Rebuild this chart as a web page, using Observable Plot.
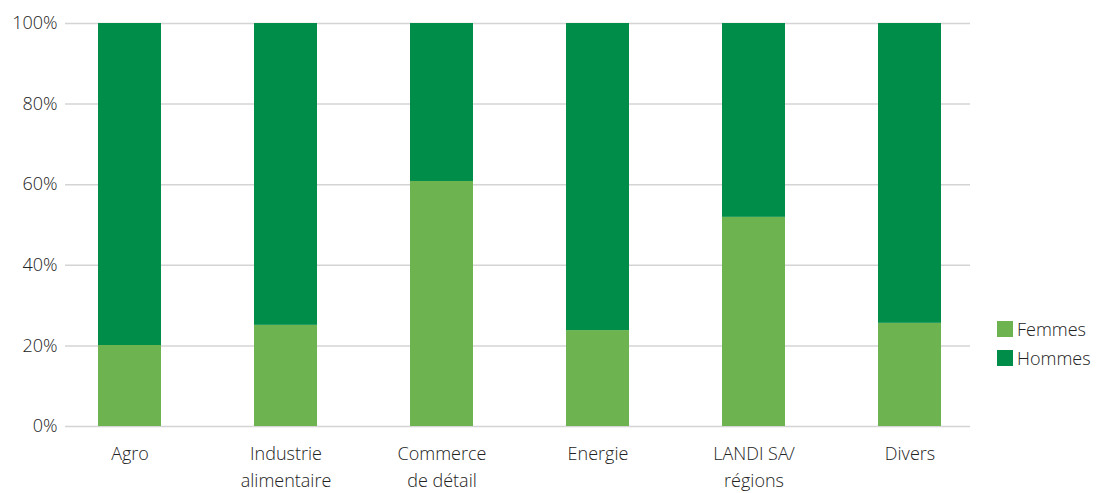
<!DOCTYPE html>
<html>
<head>
<meta charset="utf-8">
<script src="https://cdn.jsdelivr.net/npm/d3@7"></script>
<script src="https://cdn.jsdelivr.net/npm/@observablehq/plot@0.6"></script>
<style>
  html, body { margin: 0; padding: 0; background: #fff; }
  #wrap { position: relative; width: 1096px; height: 493px; font-family: "Open Sans", sans-serif; }
  #legend { position: absolute; left: 997px; top: 314px; font-size: 18px; font-weight: 300; color: #222; }
  .li { display: flex; align-items: center; height: 29px; }
  .sw { width: 16px; height: 16px; margin-right: 4px; }
</style>
</head>
<body>
<div id="wrap"><div id="chart"></div>
<div id="legend"></div></div>
<script>
const categories = ["Agro", "Industrie\nalimentaire", "Commerce\nde détail", "Energie", "LANDI SA/\nrégions", "Divers"];
const femmes = [20.1, 25.1, 60.8, 23.8, 51.9, 25.6];
const hommes = [79.9, 74.9, 39.2, 76.2, 48.1, 74.4];
const seriesNames = ["Femmes", "Hommes"];
const seriesColors = ["#6db451", "#008d4a"];
const yTicks = [0, 20, 40, 60, 80, 100];

const data = [];
categories.forEach((c, i) => {
  data.push({cat: c, series: "Femmes", value: femmes[i]});
  data.push({cat: c, series: "Hommes", value: hommes[i]});
});

const chart = Plot.plot({
  width: 1096,
  height: 493,
  marginTop: 23,
  marginBottom: 67,
  marginLeft: 65,
  marginRight: 126,
  style: {fontFamily: "'Open Sans', sans-serif", fontSize: "18px", fontWeight: 300, color: "#222"},
  x: {domain: categories, range: [96, 942], paddingInner: 0.598, paddingOuter: 0, label: null},
  y: {domain: [0, 100], label: null},
  color: {domain: seriesNames, range: seriesColors},
  marks: [
    Plot.ruleY(yTicks, {stroke: "#d4d4d4", strokeWidth: 1.5}),
    Plot.barY(data, {x: "cat", y: "value", fill: "series", order: seriesNames}),
    Plot.axisY(yTicks, {tickSize: 0, tickPadding: 8, tickFormat: d => d + "%", fontSize: 18, fill: "#222"}),
    Plot.axisX({tickSize: 0, tickPadding: 14, lineHeight: 1.5, fontSize: 18, fill: "#222", textAnchor: "middle"})
  ]
});
document.getElementById("chart").appendChild(chart);

const legend = document.getElementById("legend");
seriesNames.forEach((s, i) => {
  const row = document.createElement("div");
  row.className = "li";
  row.innerHTML = `<div class="sw" style="background:${seriesColors[i]}"></div><span>${s}</span>`;
  legend.appendChild(row);
});
</script>
</body>
</html>
